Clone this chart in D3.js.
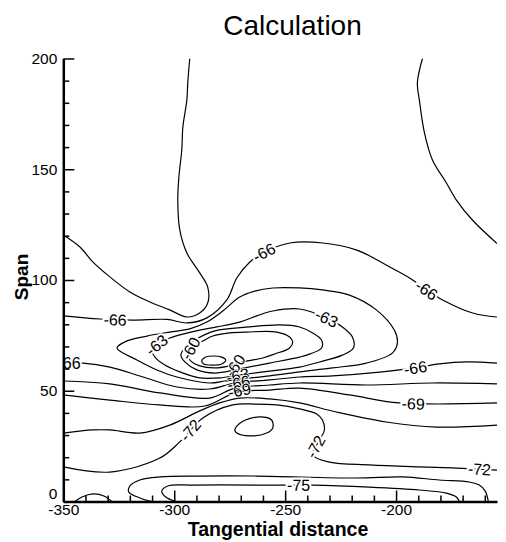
<!DOCTYPE html>
<html><head><meta charset="utf-8">
<script src="https://cdn.jsdelivr.net/npm/d3@7"></script>
<style>body{margin:0;background:#fff}svg text{font-family:"Liberation Sans",Arial,sans-serif}</style>
</head><body><svg id="c" width="506" height="542"></svg>
<script>
// ---- axis ticks ----
const xTicks = [-350, -300, -250, -200];
const yTicks = [0, 50, 100, 150, 200];
const xDomain = [-350, -154.5];
const yDomain = [0, 200];

// ---- contour lines (Tangential distance, Span) ----
const lineV_m675 = [[-293,200],[-293.9,189],[-294.3,181.3],[-296.1,169.1],[-296.6,158.7],[-297.9,146.5],[-298.4,136.1],[-297.5,122.6],[-294.3,112.2],[-288.5,103.2],[-284.9,96.8],[-284.9,89.6],[-288.5,85.1],[-294.3,83.3],[-302,86.5],[-311,90.1],[-320,94.6],[-329,101.4],[-336.6,108.1],[-342.5,114.9],[-350,120.3]];
const lineR_m675 = [[-188.1,200],[-190.4,189],[-189.5,181.3],[-187.2,166.4],[-183.6,154.2],[-177.3,143.8],[-172.8,136.1],[-165.6,127.1],[-154.5,116.5]];
const archM66 = [[-350,83.8],[-333.5,82.4],[-318.6,81.9],[-303.3,82.2],[-294.3,80.6],[-285.3,82.9],[-276.3,91.0],[-271.8,100.9],[-265.9,108.1],[-260.1,112.2],[-247.9,116.7],[-233.0,116.7],[-217.7,113.5],[-202.9,105.9],[-193.9,100.9],[-186.2,95.5],[-179.0,91.0],[-165.5,85.1],[-154.5,83.3]];
const loopM645 = [[-325.8,69.3],[-321.3,72.5],[-312.3,74.7],[-302.0,76.5],[-293.0,77.9],[-285.3,81.0],[-278.1,86.0],[-270.5,92.3],[-263.7,95.0],[-255.6,96.4],[-243.5,96.4],[-233.2,95.5],[-221.0,93.2],[-208.9,86.5],[-200.8,77.4],[-199.4,71.6],[-201.7,67.0],[-213.4,62.5],[-228.7,60.3],[-243.5,58.5],[-257.0,56.7],[-270.5,55.3],[-277.2,54.4],[-284.0,53.5],[-298.8,56.2],[-307.8,59.4],[-316.8,63.9]];
const loopM63 = [[-310.1,68.4],[-306.5,71.6],[-302.0,73.8],[-296.1,75.6],[-288.5,77.4],[-280.8,78.8],[-270.5,81.0],[-262.8,83.8],[-255.6,86.0],[-243.5,86.9],[-231.3,82.8],[-224.2,78.8],[-219.7,74.3],[-219.2,69.3],[-224.2,66.1],[-234.5,63.0],[-243.5,60.7],[-257.0,58.9],[-270.5,57.1],[-279.5,55.8],[-288.5,55.8],[-297.5,58.5],[-304.2,61.6],[-308.7,65.2]];
const loopM615 = [[-294.8,69.8],[-290.7,72.9],[-281.7,77.0],[-266.0,78.8],[-252.5,79.7],[-243.5,78.8],[-237.6,76.1],[-233.6,72.9],[-233.6,69.3],[-240.3,66.1],[-243.5,65.2],[-257.0,62.5],[-268.2,60.3],[-272.7,59.4],[-281.7,58.0],[-289.8,59.4],[-295.2,63.0],[-297.0,66.1]];
const loopM60 = [[-293.9,66.1],[-292.1,69.8],[-287.1,72.5],[-282.6,74.7],[-275.0,76.1],[-267.3,76.5],[-253.8,76.5],[-248.0,74.3],[-246.6,72.0],[-248.0,69.3],[-254.7,66.6],[-260.1,64.8],[-269.1,63.0],[-273.6,61.6],[-281.7,60.3],[-288.5,61.2],[-292.5,63.4]];
const loopM585 = [[-287.6,63.4],[-285.8,65.2],[-282.2,65.7],[-278.6,65.2],[-276.8,63.9],[-278.6,62.1],[-283.1,61.6],[-286.7,62.1]];
const lowerM66 = [[-350,62.5],[-341.1,62.5],[-329.0,60.7],[-314.1,56.2],[-298.8,51.7],[-284.0,50.8],[-272.7,53.5],[-257.0,54.9],[-243.5,56.2],[-228.7,56.7],[-206.2,58.5],[-191.7,60.3],[-180.5,62.1],[-168.3,63.0],[-154.5,62.5]];
const lineM675 = [[-350,54.4],[-329.0,53.1],[-306.5,49.0],[-284.0,46.7],[-272.7,51.2],[-257.0,52.6],[-243.5,53.5],[-213.4,52.6],[-183.6,53.5],[-154.5,53.1]];
const lineM69 = [[-350,48.1],[-329.0,45.8],[-306.5,43.6],[-286.2,43.1],[-271.8,49.4],[-257.0,50.3],[-243.5,51.2],[-221.0,48.1],[-198.5,44.5],[-154.5,44.5]];
const lineM705 = [[-350,30.9],[-336.6,32.3],[-329.0,32.3],[-315.5,30.9],[-302.0,34.5],[-288.5,40.9],[-279.5,44.5],[-270.5,46.7],[-257.0,46.3],[-243.5,44.5],[-226.9,40.4],[-204.4,35.9],[-181.8,33.6],[-154.5,34.5]];
const lineM72 = [[-350,15.6],[-329.0,13.3],[-306.5,19.6],[-297.5,26.9],[-287.1,37.7],[-273.6,43.6],[-263.7,44.0],[-253.8,43.6],[-243.5,41.8],[-235.8,39.5],[-233.2,36.8],[-232.3,32.3],[-234.5,27.8],[-237.6,21.0],[-230.0,17.8],[-212.0,16.5],[-189.5,15.6],[-172.8,15.1],[-154.5,14.2]];
const loopSmallM735 = [[-272.7,32.3],[-269.6,35.9],[-261.5,38.2],[-256.1,36.8],[-255.6,33.2],[-258.3,30.9],[-266.0,29.6],[-271.8,30.9]];
const bottomM735 = [[-310.1,0],[-315.5,1.6],[-320.5,4.3],[-320.0,7.0],[-315.5,9.7],[-306.5,11.1],[-288.5,11.5],[-262.8,11.5],[-217.9,10.6],[-197.1,11.1],[-180.5,9.7],[-167.0,8.8],[-162.5,7.4],[-159.8,4.7],[-158.4,0]];
const bottomM75 = [[-299.3,0],[-303.8,2.0],[-305.6,4.7],[-302.9,7.0],[-291.6,7.4],[-252.5,7.4],[-237.6,7.4],[-212.0,6.5],[-189.5,5.2],[-177.3,3.8],[-172.8,2.0],[-171.5,0]];
const cornerM735 = [[-344.7,0],[-341.6,2.0],[-336.6,3.4],[-331.7,2.5],[-328.1,0]];

const contourLines = [
  {level:-67.5, pts:lineV_m675, closed:false},
  {level:-67.5, pts:lineR_m675, closed:false},
  {level:-66, pts:archM66, closed:false},
  {level:-64.5, pts:loopM645, closed:true},
  {level:-63, pts:loopM63, closed:true},
  {level:-61.5, pts:loopM615, closed:true},
  {level:-60, pts:loopM60, closed:true},
  {level:-58.5, pts:loopM585, closed:true},
  {level:-66, pts:lowerM66, closed:false},
  {level:-67.5, pts:lineM675, closed:false},
  {level:-69, pts:lineM69, closed:false},
  {level:-70.5, pts:lineM705, closed:false},
  {level:-72, pts:lineM72, closed:false},
  {level:-73.5, pts:loopSmallM735, closed:true},
  {level:-73.5, pts:bottomM735, closed:false},
  {level:-75, pts:bottomM75, closed:false},
  {level:-73.5, pts:cornerM735, closed:false}
];

// ---- contour labels: text, index of line, anchor (data), fixed angle or null ----
const labelText  = ["-66","-66","-66","-66","-63","-60","-63","-66","-69","-60","-63","-66","-69","-72","-72","-72","-75"];
const labelLine  = [2,2,2,8,4,6,4,8,10,6,4,8,10,12,12,12,15];
const labelX     = [-326.7,-259.7,-186.3,-347.4,-306.9,-291.6,-231.3,-191.3,-192.2,-272.6,-271.4,-271.0,-270.6,-292.4,-237.6,-162.5,-243.9];
const labelY     = [81.5,112.7,95.5,62.5,69.3,68.4,82.8,60.3,44.5,61.4,56.9,53.6,50.2,31.8,25.5,14.7,6.5];
const labelAngle = [null,null,null,0,null,null,null,null,null,-55,-12,-12,-12,null,null,null,null];
const labelHalo  = [4,4,4,4,4,4,4,4,4,2,1.5,1.5,1.5,4,4,4,4];

const x = d3.scaleLinear().domain(xDomain).range([63.3, 497]);
const y = d3.scaleLinear().domain(yDomain).range([501.5, 58.5]);
const svg = d3.select("#c");

svg.append("defs").append("clipPath").attr("id","plotclip")
  .append("rect").attr("x", x(xDomain[0])).attr("y", y(yDomain[1]))
  .attr("width", x(xDomain[1]) - x(xDomain[0])).attr("height", y(yDomain[0]) - y(yDomain[1]));

const plot = svg.append("g").attr("clip-path","url(#plotclip)");
const lineOpen = d3.line().x(d=>x(d[0])).y(d=>y(d[1])).curve(d3.curveCatmullRom.alpha(0.5));
const lineClosed = d3.line().x(d=>x(d[0])).y(d=>y(d[1])).curve(d3.curveCatmullRomClosed.alpha(0.5));

const paths = contourLines.map(c =>
  plot.append("path").attr("d", (c.closed ? lineClosed : lineOpen)(c.pts))
    .attr("fill","none").attr("stroke","#000").attr("stroke-width",1.2)
);

// labels
const lab = plot.append("g");
labelText.forEach((t,i) => {
  const node = paths[labelLine[i]].node();
  const L = node.getTotalLength();
  const tx = x(labelX[i]), ty = y(labelY[i]);
  let best = 0, bd = Infinity;
  for (let l = 0; l <= L; l += 0.5) {
    const p = node.getPointAtLength(l);
    const d = (p.x-tx)**2 + (p.y-ty)**2;
    if (d < bd) { bd = d; best = l; }
  }
  let px = tx, py = ty, ang = labelAngle[i];
  if (ang === null) {
    const p = node.getPointAtLength(best);
    px = p.x; py = p.y;
    const a = node.getPointAtLength(Math.max(0,best-6)), b = node.getPointAtLength(Math.min(L,best+6));
    ang = Math.atan2(b.y-a.y, b.x-a.x)*180/Math.PI;
    if (ang > 90) ang -= 180;
    if (ang < -90) ang += 180;
  }
  lab.append("text").attr("transform",`translate(${px},${py}) rotate(${ang})`)
    .attr("text-anchor","middle").attr("dy","0.36em")
    .attr("font-size",16).attr("fill","#000")
    .attr("stroke","#fff").attr("stroke-width",labelHalo[i]).attr("paint-order","stroke")
    .text(t);
});

// axes
const xMinor = d3.range(-350, -154, 10).filter(v => !xTicks.includes(v));
const yMinor = d3.range(0, 201, 10).filter(v => !yTicks.includes(v));
const gx = svg.append("g").attr("transform",`translate(0,${y(0)})`);
gx.append("g").call(d3.axisBottom(x).tickValues(xMinor).tickSize(-6).tickFormat("")).call(g=>g.select(".domain").remove());
gx.append("g").call(d3.axisBottom(x).tickValues(xTicks).tickSize(-11).tickSizeOuter(0).tickPadding(2).tickFormat(d=>String(d)));
const gy = svg.append("g").attr("transform",`translate(${x(xDomain[0])},0)`);
gy.append("g").call(d3.axisLeft(y).tickValues(yMinor).tickSize(-6).tickFormat("")).call(g=>g.select(".domain").remove());
gy.append("g").call(d3.axisLeft(y).tickValues(yTicks).tickSize(-11).tickSizeOuter(0).tickPadding(6).tickFormat(d=>String(d)))
  .call(g=>g.selectAll(".tick").filter(d=>d===0).select("text").attr("dy","-0.2em"));
svg.selectAll(".tick line").attr("stroke","#000").attr("stroke-width",1.5);
svg.selectAll(".domain").attr("stroke","#000").attr("stroke-width",2.5);
svg.selectAll(".tick text").attr("font-size",15.5).attr("fill","#000").attr("font-family",'"Liberation Sans",Arial,sans-serif');

// titles
svg.append("text").attr("x",292.5).attr("y",35).attr("text-anchor","middle").attr("font-size",28).text("Calculation");
svg.append("text").attr("x",278).attr("y",536).attr("text-anchor","middle").attr("font-size",19.5).attr("font-weight","bold").text("Tangential distance");
svg.append("text").attr("transform","translate(28,277) rotate(-90)").attr("text-anchor","middle").attr("font-size",19).attr("font-weight","bold").text("Span");
</script></body></html>
